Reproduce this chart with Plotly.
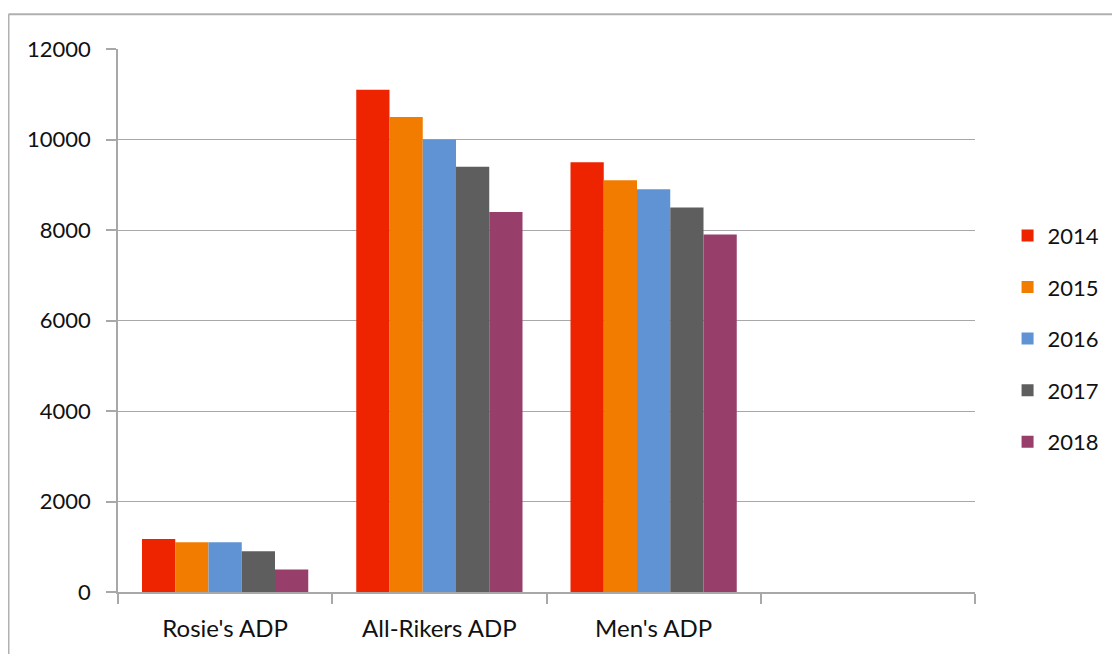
import plotly.graph_objects as go

categories = ["Rosie's ADP", "All-Rikers ADP", "Men's ADP", " "]
years = ["2014", "2015", "2016", "2017", "2018"]
values_2014 = [1170, 11100, 9500, None]
values_2015 = [1100, 10500, 9100, None]
values_2016 = [1100, 10000, 8900, None]
values_2017 = [900, 9400, 8500, None]
values_2018 = [500, 8400, 7900, None]
series = [values_2014, values_2015, values_2016, values_2017, values_2018]
colors = ["#EE2400", "#F27C00", "#5F93D3", "#5E5E5E", "#973F6A"]

FONT = "Lato"

fig = go.Figure()
for i, (yr, vals) in enumerate(zip(years, series)):
    fig.add_trace(go.Bar(
        x=categories, y=vals, name=yr, legendgroup=yr,
        marker=dict(color=colors[i], line=dict(width=0)),
    ))

fig.update_layout(
    width=1112, height=646,
    margin=dict(l=110, r=145, t=41, b=58),
    paper_bgcolor="white", plot_bgcolor="white",
    barmode="group", bargap=0.224, bargroupgap=0,
    font=dict(family=FONT, color="#111111", size=22),
    showlegend=True,
    legend=dict(x=1.038, y=0.695, xanchor="left", yanchor="top",
                font=dict(size=22, family=FONT), tracegroupgap=20,
                itemwidth=30, bgcolor="rgba(0,0,0,0)"),
    xaxis=dict(type="category", categoryorder="array", categoryarray=categories,
               range=[-0.5, 3.5], tickson="boundaries", ticks="outside",
               ticklen=10, tickcolor="#A8A8A8", tickwidth=1.5,
               showline=True, linecolor="#A8A8A8", linewidth=1.5,
               showgrid=False, tickfont=dict(size=24, family=FONT),
               ticklabelstandoff=14, fixedrange=True),
    yaxis=dict(range=[0, 12000], dtick=2000, tickformat="d", ticks="outside",
               ticklen=10, tickcolor="#A8A8A8", tickwidth=1.5, showline=True,
               linecolor="#A8A8A8", linewidth=1.5, showgrid=True,
               gridcolor="#A8A8A8", gridwidth=1, zeroline=False,
               tickfont=dict(size=22, family=FONT), ticklabelstandoff=11,
               fixedrange=True),
)

# outer frame
fig.add_shape(type="line", xref="paper", yref="paper",
              x0=-0.1278, x1=1.2, y0=1.0642, y1=1.0642,
              line=dict(color="#B0B0B0", width=2))
fig.add_shape(type="line", xref="paper", yref="paper",
              x0=-0.1278, x1=-0.1278, y0=1.0642, y1=-0.2,
              line=dict(color="#B0B0B0", width=2))

fig.write_html("out.html")
